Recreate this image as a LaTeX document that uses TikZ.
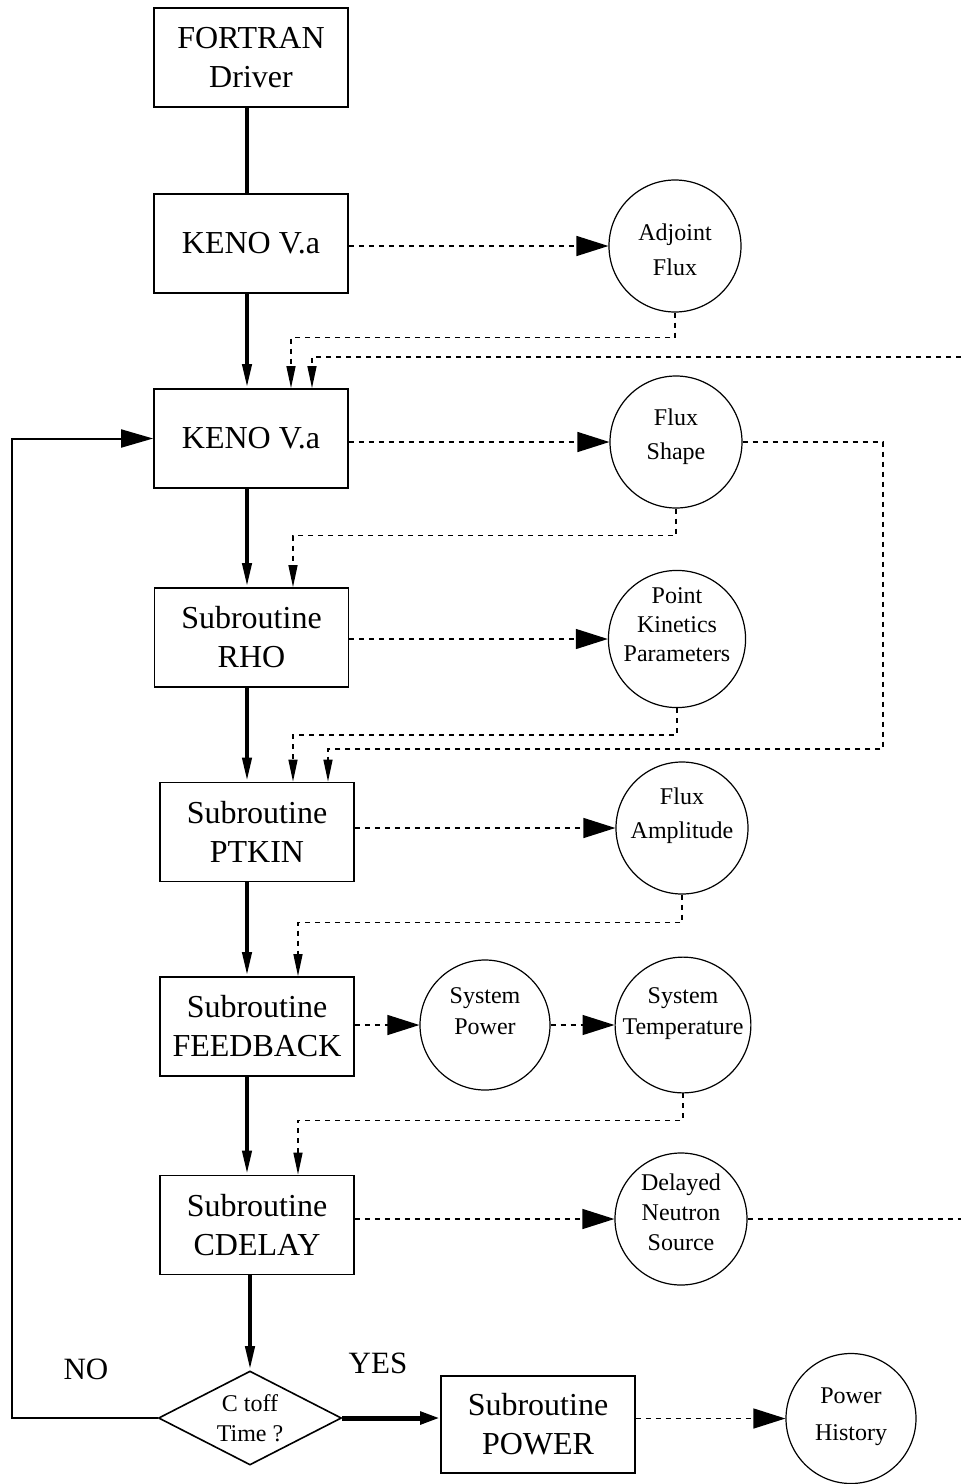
\documentclass[tikz,border=0pt]{standalone}
\usepackage{fontspec}
\setmainfont{Liberation Serif}
\usetikzlibrary{arrows.meta,calc,shapes.geometric}
\newcommand{\mylift}[2]{\raisebox{#1}[\height][\depth]{\begin{tabular}{@{}c@{}}#2\end{tabular}}}
\begin{document}
\begin{tikzpicture}[x=0.5pt,y=-0.5pt,
  box/.style={draw,line width=0.9pt,minimum width=97pt,minimum height=49.5pt,inner sep=0pt,align=center,font=\fontsize{16}{19.5}\selectfont},
  bub/.style={circle,draw,line width=0.6pt,minimum size=66pt,inner sep=0pt,align=center},
  spineline/.style={line width=2pt},
  spinearrow/.style={line width=2pt,-{Triangle[length=12pt,width=4.5pt]}},
  dsh/.style={line width=0.7pt,dash pattern=on 2.5pt off 2.5pt},
  bigtip/.style={-{Triangle[length=16pt,width=10pt]}},
  thintip/.style={-{Triangle[length=11pt,width=4.5pt]}},
  lbl/.style={font=\fontsize{15.5}{18}\selectfont,inner sep=0pt}]
\useasboundingbox (0,0) rectangle (961,1484);

% boxes
\node[box] (fortran) at (251,57.5) {FORTRAN\\Driver};
\node[box] (keno1) at (251,243.5) {KENO V.a};
\node[box] (keno2) at (251,438.5) {KENO V.a};
\node[box] (rho) at (251.5,637.5) {Subroutine\\RHO};
\node[box] (ptkin) at (257,832) {Subroutine\\PTKIN};
\node[box] (feedback) at (257,1026.5) {Subroutine\\FEEDBACK};
\node[box] (cdelay) at (257,1225) {Subroutine\\CDELAY};
\node[box,minimum height=48.5pt] (power) at (538,1424.5) {Subroutine\\POWER};
\node[diamond,draw,line width=0.8pt,aspect=1.95,minimum width=91.5pt,minimum height=47pt,inner sep=0pt,align=center,font=\fontsize{12}{15}\selectfont] (dia) at (250,1418) {C toff\\Time ?};

% circles
\node[bub,font=\fontsize{12}{17.5}\selectfont] (adj) at (675,246) {\mylift{-2.5pt}{Adjoint\\Flux}};
\node[bub,font=\fontsize{12}{17}\selectfont] (fs) at (676,442) {\mylift{3pt}{Flux\\Shape}};
\node[bub,minimum size=65pt,font=\fontsize{12}{14.5}\selectfont] (pkp) at (677,639) {\mylift{6pt}{Point\\Kinetics\\Parameters}};
\node[bub,font=\fontsize{12}{17}\selectfont] (famp) at (682,828) {\mylift{6.5pt}{Flux\\Amplitude}};
\node[bub,minimum size=65pt,font=\fontsize{12}{15.5}\selectfont] (spow) at (485,1025) {\mylift{6pt}{System\\Power}};
\node[bub,minimum size=65pt,font=\fontsize{12}{15.5}\selectfont] (stemp) at (683,1025) {\mylift{6pt}{System\\Temperature}};
\node[bub,font=\fontsize{12}{15}\selectfont] (dns) at (681,1219) {\mylift{2.5pt}{Delayed\\Neutron\\Source}};
\node[bub,minimum size=65pt,font=\fontsize{12}{18.5}\selectfont] (ph) at (851,1418.5) {\mylift{2pt}{Power\\History}};

% labels
\node[lbl] (no) at (86,1369) {NO};
\node[lbl] (yes) at (378,1363) {YES};

% helper coordinates
\coordinate (spine) at (247,0);
\coordinate (loopx) at (12,0);
\coordinate (fsR) at (883,749);
\coordinate (edgeT) at (961,357);

% main spine
\draw[spineline] (fortran.south -| spine) -- (keno1.north -| spine);
\draw[spinearrow] (keno1.south -| spine) -- (keno2.north -| spine);
\draw[spinearrow] (keno2.south -| spine) -- (rho.north -| spine);
\draw[spinearrow] (rho.south -| spine) -- (ptkin.north -| spine);
\draw[spinearrow] (ptkin.south -| spine) -- (feedback.north -| spine);
\draw[spinearrow] (feedback.south -| spine) -- (cdelay.north -| spine);
\draw[spinearrow] (cdelay.south -| dia.north) -- (dia.north);

% dashed outputs
\draw[dsh,bigtip] (keno1.east |- adj) -- (adj.west);
\draw[dsh,bigtip] (keno2.east |- fs) -- (fs.west);
\draw[dsh,bigtip] (rho.east |- pkp) -- (pkp.west);
\draw[dsh,bigtip] (ptkin.east |- famp) -- (famp.west);
\draw[dsh,bigtip] (feedback.east |- spow) -- (spow.west);
\draw[dsh,bigtip] (spow.east) -- (stemp.west);
\draw[dsh,bigtip] (cdelay.east |- dns) -- (dns.west);
\draw[dsh,bigtip] (power.east |- ph) -- (ph.west);

% dashed returns
\draw[dsh,thintip] (adj.south) -- ++(0,25) -| ($(keno2.north)+(40,0)$);
\draw[dsh,thintip] (edgeT) -| ($(keno2.north)+(61,0)$);
\draw[dsh,thintip] (fs.south) -- ++(0,27) -| ($(rho.north)+(41.5,0)$);
\draw[dsh,thintip] (pkp.south) -- ++(0,27) -| ($(ptkin.north)+(36,0)$);
\draw[dsh,thintip] (fs.east) -| (fsR) -| ($(ptkin.north)+(71,0)$);
\draw[dsh,thintip] (famp.south) -- ++(0,28) -| ($(feedback.north)+(41,0)$);
\draw[dsh,thintip] (stemp.south) -- ++(0,27) -| ($(cdelay.north)+(41,0)$);
\draw[dsh] (dns.east) -- (dns.east -| edgeT);

% decision branches
\draw[line width=1pt,-{Triangle[length=16pt,width=9pt]}] (dia.west) -- (dia.west -| loopx) -- (keno2.west -| loopx) -- (keno2.west);
\draw[line width=2.5pt,-{Triangle[length=10pt,width=6pt]}] (dia.east) -- (dia.east -| power.west);
\end{tikzpicture}
\end{document}
